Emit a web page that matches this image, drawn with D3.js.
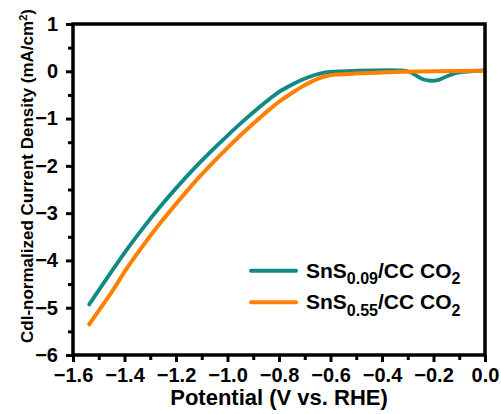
<!DOCTYPE html>
<html>
<head>
<meta charset="utf-8">
<script src="https://cdn.jsdelivr.net/npm/d3@7/dist/d3.min.js"></script>
<style>
  html, body { margin: 0; padding: 0; background: #fff; }
  svg { display: block; }
  text { font-family: "Liberation Sans", Arial, Helvetica, sans-serif; font-weight: bold; fill: #000; }
</style>
</head>
<body>
<svg id="chart" width="501" height="414"></svg>
<script>
// ---- data ----
const xTicks = [-1.6, -1.4, -1.2, -1.0, -0.8, -0.6, -0.4, -0.2, 0.0];
const yTicks = [1, 0, -1, -2, -3, -4, -5, -6];

const tealV = [-1.537, -1.456, -1.391, -1.326, -1.261, -1.196, -1.132, -1.067, -1.002, -0.937, -0.872, -0.833, -0.801, -0.756, -0.715, -0.678, -0.645, -0.613, -0.56, -0.509, -0.34, -0.30, -0.27, -0.24, -0.211, -0.18, -0.145, -0.107, -0.055, 0.0];
const tealJ = [-4.93, -4.28, -3.77, -3.30, -2.86, -2.45, -2.07, -1.71, -1.37, -1.045, -0.74, -0.57, -0.44, -0.30, -0.19, -0.11, -0.055, -0.02, 0.0, 0.01, 0.02, 0.0, -0.08, -0.17, -0.20, -0.18, -0.10, -0.03, 0.0, 0.02];

const orangeV = [-1.537, -1.456, -1.391, -1.326, -1.261, -1.196, -1.132, -1.067, -1.002, -0.937, -0.872, -0.833, -0.801, -0.756, -0.715, -0.678, -0.645, -0.615, -0.58, -0.51, -0.316, 0.0];
const orangeJ = [-5.35, -4.72, -4.17, -3.67, -3.21, -2.78, -2.37, -1.99, -1.63, -1.29, -0.97, -0.79, -0.65, -0.48, -0.34, -0.23, -0.15, -0.10, -0.07, -0.05, -0.01, 0.01];

const seriesNames = [["SnS", "0.09", "/CC CO", "2"], ["SnS", "0.55", "/CC CO", "2"]];
const seriesColors = ["#108983", "#ff8000"];

// ---- layout ----
const svg = d3.select("#chart");
const L = 73, R = 485, T = 24, B = 355;
const x = d3.scaleLinear().domain([-1.6, 0]).range([L, R]);
const y = d3.scaleLinear().domain([-6, 1]).range([B, T]);

// curves
const series = [
  { v: tealV, j: tealJ, color: seriesColors[0], w: 3.8 },
  { v: orangeV, j: orangeJ, color: seriesColors[1], w: 4 }
];
const line = d3.line().x(d => x(d[0])).y(d => y(d[1])).curve(d3.curveCatmullRom.alpha(0.5));
series.forEach(s => {
  svg.append("path")
    .datum(s.v.map((v, i) => [v, s.j[i]]))
    .attr("fill", "none")
    .attr("stroke", s.color)
    .attr("stroke-width", s.w)
    .attr("stroke-linecap", "round")
    .attr("stroke-linejoin", "round")
    .attr("d", line);
});

// axes
const fontSize = 20;
const xAxisMinor = d3.axisBottom(x).tickValues(d3.range(-1.5, 0, 0.2)).tickSize(5).tickFormat("");
const xAxis = d3.axisBottom(x).tickValues(xTicks).tickSize(7).tickPadding(6).tickFormat(d3.format(".1f"));
const yAxisMinor = d3.axisLeft(y).tickValues(d3.range(-5.5, 1, 1)).tickSize(5).tickFormat("");
const yAxis = d3.axisLeft(y).tickValues(yTicks).tickSize(7).tickPadding(8).tickFormat(d3.format("d"));

function styleAxis(g) {
  g.select(".domain").remove();
  g.selectAll(".tick line").attr("stroke", "#000").attr("stroke-width", 3);
  g.selectAll(".tick text")
    .style("font-family", '"Liberation Sans", Arial, sans-serif')
    .style("font-weight", "bold")
    .style("font-size", fontSize + "px")
    .attr("fill", "#000");
}
svg.append("g").attr("transform", `translate(0,${B})`).call(xAxisMinor).call(styleAxis);
svg.append("g").attr("transform", `translate(0,${B})`).call(xAxis).call(styleAxis);
svg.append("g").attr("transform", `translate(${L},0)`).call(yAxisMinor).call(styleAxis);
svg.append("g").attr("transform", `translate(${L},0)`).call(yAxis).call(styleAxis);

// frame
svg.append("rect")
  .attr("x", L).attr("y", T).attr("width", R - L).attr("height", B - T)
  .attr("fill", "none").attr("stroke", "#000").attr("stroke-width", 3.5);

// axis titles
svg.append("text")
  .attr("x", (L + R) / 2).attr("y", 405)
  .attr("text-anchor", "middle")
  .style("font-size", "22px")
  .text("Potential (V vs. RHE)");

const yt = svg.append("text")
  .attr("transform", "translate(33,176) rotate(-90)")
  .attr("text-anchor", "middle")
  .style("font-size", "17px");
yt.append("tspan").text("Cdl-normalized Current Density (mA/cm");
yt.append("tspan").attr("dy", -6).style("font-size", "11px").text("2");
yt.append("tspan").attr("dy", 6).text(")");

// legend
const legY = [270.7, 302.3];
seriesNames.forEach((n, i) => {
  svg.append("line")
    .attr("x1", 251).attr("x2", 296)
    .attr("y1", legY[i]).attr("y2", legY[i])
    .attr("stroke", seriesColors[i]).attr("stroke-width", 4).attr("stroke-linecap", "round");
  const t = svg.append("text")
    .attr("x", 306).attr("y", legY[i] + 7)
    .style("font-size", "21px");
  t.append("tspan").text(n[0]);
  t.append("tspan").attr("dy", 6.5).style("font-size", "16px").text(n[1]);
  t.append("tspan").attr("dy", -6.5).text(n[2]);
  t.append("tspan").attr("dy", 6.5).style("font-size", "16px").text(n[3]);
});
</script>
</body>
</html>
